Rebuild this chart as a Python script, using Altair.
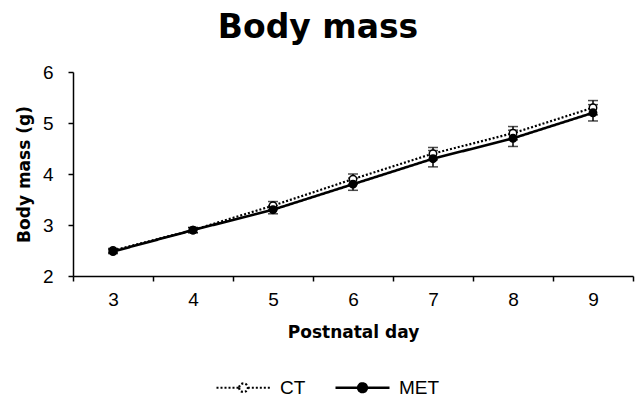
import altair as alt
import pandas as pd

days = [3, 4, 5, 6, 7, 8, 9]
ct_mean = [2.50, 2.90, 3.38, 3.90, 4.40, 4.80, 5.30]
ct_se = [0.04, 0.05, 0.08, 0.10, 0.12, 0.13, 0.14]
met_mean = [2.48, 2.90, 3.30, 3.80, 4.30, 4.70, 5.20]
met_se = [0.04, 0.05, 0.08, 0.12, 0.16, 0.16, 0.16]
groups = ["CT", "MET"]

rows = []
for g, means, ses in [("CT", ct_mean, ct_se), ("MET", met_mean, met_se)]:
    for d, m, s in zip(days, means, ses):
        rows.append({"day": d, "group": g, "mean": m, "lo": m - s, "hi": m + s})
df = pd.DataFrame(rows)

FONT = "DejaVu Sans"
LFONT = "Liberation Sans"
xscale = alt.Scale(type="band", paddingInner=0, paddingOuter=0)
x = alt.X("day:O", scale=xscale, sort=days,
          axis=alt.Axis(title="Postnatal day", labelAngle=0, tickBand="extent",
                        tickSize=5, tickColor="black", tickWidth=1.5,
                        domainColor="black", domainWidth=1.5,
                        labelFont=LFONT, labelFontSize=19, labelColor="black",
                        labelPadding=9,
                        titleFont=FONT, titleFontSize=17, titleFontWeight="bold",
                        titleColor="black", titlePadding=15))
y = alt.Y("mean:Q", scale=alt.Scale(domain=[2, 6], nice=False, zero=False),
          axis=alt.Axis(title="Body mass (g)", values=[2, 3, 4, 5, 6], format="d",
                        grid=False,
                        tickSize=5, tickColor="black", tickWidth=1.5,
                        domainColor="black", domainWidth=1.5,
                        labelFont=LFONT, labelFontSize=19, labelColor="black",
                        labelPadding=15,
                        titleFont=FONT, titleFontSize=17, titleFontWeight="bold",
                        titleColor="black", titlePadding=9))

sym_path = ("M-1,0L-0.16,0M0.16,0L1,0"
            "M-0.16,0A0.16,0.16,0,1,0,0.16,0A0.16,0.16,0,1,0,-0.16,0Z")
leg = alt.Legend(orient="none", legendX=142, legendY=287, direction="horizontal",
                 symbolType=sym_path, symbolSize=2916, symbolStrokeWidth=2,
                 symbolStrokeColor="black", labelFont=LFONT, labelFontSize=19,
                 labelColor="black", labelOffset=8, columnPadding=24)

base = alt.Chart(df)

lines = base.mark_line(color="black").encode(
    x=x, y=y,
    strokeDash=alt.StrokeDash("group:N", title=None,
                              scale=alt.Scale(domain=groups, range=[[2, 2], [1, 0]]),
                              legend=leg),
    strokeWidth=alt.StrokeWidth("group:N", scale=alt.Scale(domain=groups, range=[2.2, 2.6]),
                                legend=None),
)

bars = base.mark_rule(color="black", strokeWidth=1.5).encode(
    x=x, y=alt.Y("lo:Q"), y2="hi:Q")
caps_hi = base.mark_tick(color="black", thickness=1.5, size=10).encode(x=x, y=alt.Y("hi:Q"))
caps_lo = base.mark_tick(color="black", thickness=1.5, size=10).encode(x=x, y=alt.Y("lo:Q"))

points = base.mark_point(shape="circle", filled=True, stroke="black", strokeWidth=1.5,
                         size=55, opacity=1).encode(
    x=x, y=y,
    fill=alt.Fill("group:N", title=None,
                  scale=alt.Scale(domain=groups, range=["white", "black"]),
                  legend=leg),
)

chart = alt.layer(lines, bars, caps_hi, caps_lo, points).properties(
    width=560, height=204,
    title=alt.TitleParams(text="Body mass", font=FONT, fontSize=33, fontWeight="bold",
                          color="black", anchor="middle", dx=-35, dy=39,
                          baseline="bottom", offset=24),
    autosize=alt.AutoSizeParams(type="none"),
    padding={"left": 73, "top": 72, "right": 2, "bottom": 123},
    background="white",
).configure_view(stroke=None)

chart.save("out.html", embed_options={"renderer": "svg", "actions": False})
